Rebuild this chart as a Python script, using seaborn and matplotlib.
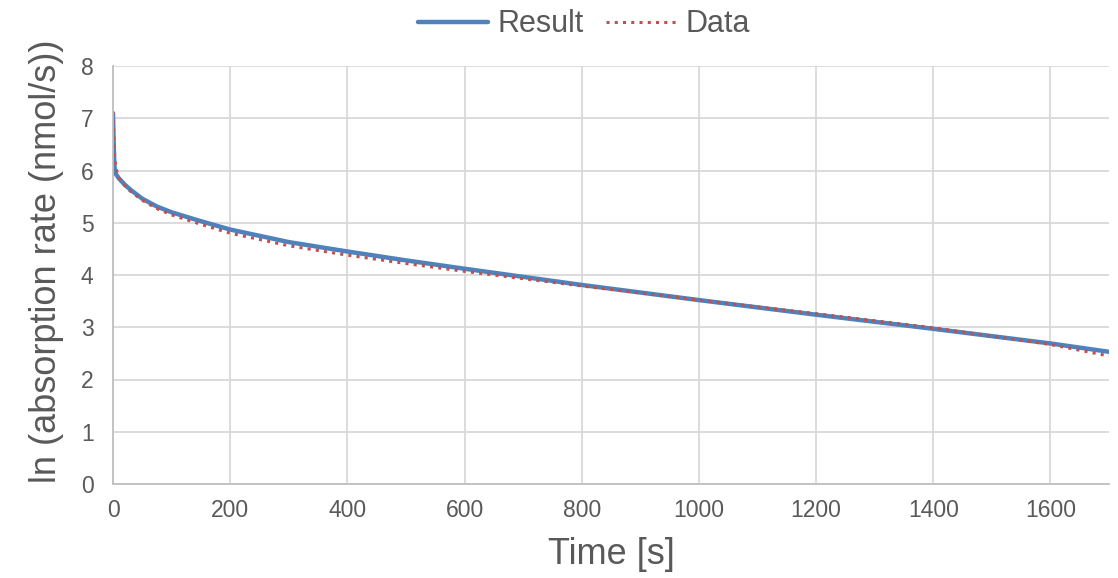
import matplotlib
matplotlib.use("Agg")
import matplotlib.pyplot as plt
import seaborn as sns
import pandas as pd

# Data
time_s = [0, 1, 2, 3, 5, 10, 20, 30, 50, 75, 100, 150, 200, 300, 400, 500,
          600, 800, 1000, 1200, 1400, 1600, 1700]
result = [7.10, 6.60, 6.20, 6.00, 5.93, 5.85, 5.73, 5.63, 5.46, 5.31, 5.20,
          5.03, 4.87, 4.63, 4.45, 4.28, 4.12, 3.81, 3.52, 3.24, 2.97, 2.69, 2.53]
data = [7.12, 6.75, 6.45, 6.22, 6.05, 5.86, 5.71, 5.60, 5.43, 5.27, 5.15,
        4.97, 4.80, 4.56, 4.38, 4.22, 4.07, 3.79, 3.52, 3.26, 2.99, 2.67, 2.45]
series_names = ["Result", "Data"]
x_ticks = [0, 200, 400, 600, 800, 1000, 1200, 1400, 1600]
y_ticks = [0, 1, 2, 3, 4, 5, 6, 7, 8]

df_res = pd.DataFrame({"t": time_s, "v": result})
df_dat = pd.DataFrame({"t": time_s, "v": data})

sns.set_theme(style="whitegrid")
plt.rcParams["font.family"] = ["Liberation Sans", "DejaVu Sans"]

text_col = "#595959"
fig = plt.figure(figsize=(11.18, 5.78), dpi=100)
ax = fig.add_axes([113 / 1118, 1 - 484 / 578, (1109 - 113) / 1118, (484 - 66) / 578])

sns.lineplot(data=df_res, x="t", y="v", ax=ax, color="#4F81BD", linewidth=3.2,
             label=series_names[0])
sns.lineplot(data=df_dat, x="t", y="v", ax=ax, color="#C0504D", linewidth=2.2,
             linestyle=(0, (1, 1.7)), label=series_names[1])

ax.set_xlim(0, 1700)
ax.set_ylim(0, 8)
ax.set_xticks(x_ticks)
ax.set_yticks(y_ticks)
ax.grid(True, color="#D9D9D9", linewidth=1.3)
ax.set_axisbelow(True)
for s in ["top", "right"]:
    ax.spines[s].set_visible(False)
for s in ["left", "bottom"]:
    ax.spines[s].set_visible(True)
    ax.spines[s].set_color("#BFBFBF")
    ax.spines[s].set_linewidth(1.3)
ax.tick_params(axis="both", length=0, labelsize=16.5, labelcolor=text_col)
ax.tick_params(axis="y", pad=14)
ax.tick_params(axis="x", pad=11)

ax.set_xlabel("Time [s]", fontsize=26, color=text_col)
ax.set_ylabel("ln (absorption rate (nmol/s))", fontsize=26, color=text_col)
ax.xaxis.set_label_coords(0.5, (484 - 537) / 418)
ax.yaxis.set_label_coords((64 - 113) / 996, (484 - 261) / 418)

leg = ax.legend(loc="upper center", bbox_to_anchor=(0.473, 1.165), ncol=2,
                frameon=False, fontsize=22, handlelength=2.3, columnspacing=0.75,
                handletextpad=0.3, borderaxespad=0)
for t in leg.get_texts():
    t.set_color(text_col)

fig.savefig("out.png", dpi=100)
